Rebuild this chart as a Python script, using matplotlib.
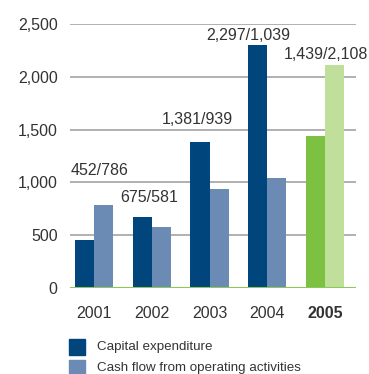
import numpy as np
import matplotlib
matplotlib.use('Agg')
import matplotlib.pyplot as plt
import matplotlib.patches as mpatches

# values in EUR million
years = ['2001', '2002', '2003', '2004', '2005']
capex = [452, 675, 1381, 2297, 1439]
cashflow = [786, 581, 939, 1039, 2108]
yticks = [0, 500, 1000, 1500, 2000, 2500]

# bar colours: earlier years blue, current year green
capex_col = ['#00457c'] * 4 + ['#7dc142']
cash_col = ['#6b8ab4'] * 4 + ['#bfdf9a']
txt = '#333333'

# nudge of each value label (points) relative to the group centre / tallest bar
lab_dx = [4, -2, -9, -14, 1]
lab_dy = [25, 14, 16, 7, 8]

plt.rcParams['font.family'] = ['Liberation Sans', 'DejaVu Sans']

fig = plt.figure(figsize=(3.69, 3.74), dpi=100)
ax = fig.add_axes([0.19, 0.23, 0.775, 0.706])

x = np.arange(len(years))
w = 0.33
ax.bar(x - w/2, capex, w, color=capex_col, zorder=3)
ax.bar(x + w/2, cashflow, w, color=cash_col, zorder=3)

ax.set_xlim(-0.416, 4.54)
ax.set_ylim(0, 2500)
ax.set_yticks(yticks)
ax.set_yticklabels(['{:,}'.format(v) for v in yticks], fontsize=11.5, color=txt)
for v in yticks[1:]:
    ax.axhline(v, color='#a3a3a3', lw=1.2, zorder=1)
ax.axhline(0, color='#8cc85a', lw=1.5, zorder=4)

ax.set_xticks(x)
ax.set_xticklabels(years, fontsize=11.5, color=txt)
ax.get_xticklabels()[-1].set_fontweight('bold')
ax.tick_params(length=0)
ax.tick_params(axis='y', pad=9)
ax.tick_params(axis='x', pad=13)
for s in ax.spines.values():
    s.set_visible(False)

for i in range(len(years)):
    top = max(capex[i], cashflow[i])
    ax.annotate('{:,}/{:,}'.format(capex[i], cashflow[i]), (x[i], top),
                xytext=(lab_dx[i], lab_dy[i]), textcoords='offset points',
                ha='center', va='center', fontsize=11.5, color=txt,
                annotation_clip=False)

# legend drawn by hand below the axes
for k, (lab, col) in enumerate([('Capital expenditure', '#00457c'),
                                ('Cash flow from operating activities', '#6b8ab4')]):
    y0 = 1 - (339 + k*21) / 374
    fig.patches.append(mpatches.Rectangle((69/369, y0 - 16/374), 16/369, 16/374,
                                          transform=fig.transFigure, color=col))
    fig.text(97/369, y0 - 8/374, lab, fontsize=9.6, color=txt, va='center')

fig.savefig('out.png', dpi=100)
